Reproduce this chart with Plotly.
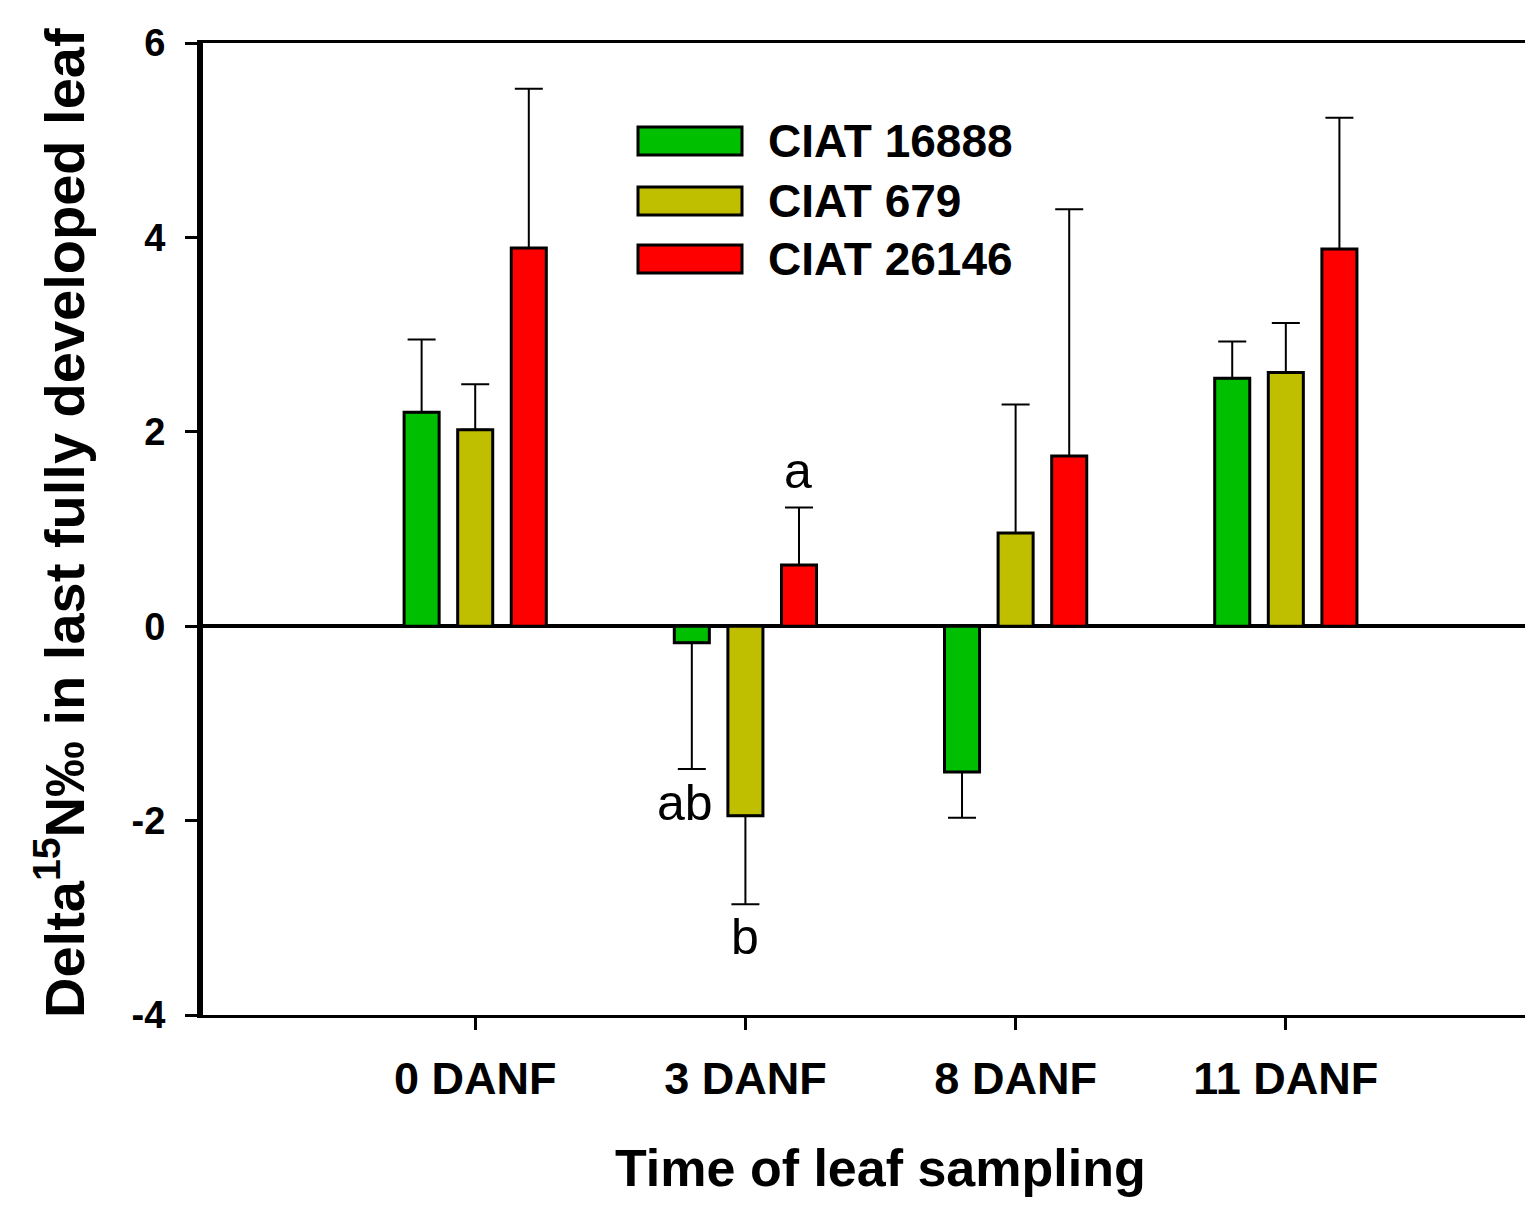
import plotly.graph_objects as go

categories = ["0 DANF", "3 DANF", "8 DANF", "11 DANF"]
series_names = ["CIAT 16888", "CIAT 679", "CIAT 26146"]
colors = ["#00BF00", "#BFBF00", "#FF0000"]

ciat_16888 = [2.20, -0.17, -1.50, 2.55]
ciat_16888_err = [0.75, 1.30, 0.47, 0.38]
ciat_679 = [2.02, -1.95, 0.96, 2.61]
ciat_679_err = [0.47, 0.91, 1.32, 0.51]
ciat_26146 = [3.89, 0.63, 1.75, 3.88]
ciat_26146_err = [1.64, 0.59, 2.54, 1.35]

y_ticks = [-4, -2, 0, 2, 4, 6]
y_tick_labels = ["-4", "-2", "0", "2", "4", "6"]

# significance letters: (text, category position, y)
letters = ["a", "ab", "b"]
letter_x = [1.196, 0.778, 1.0]
letter_y = [1.60, -1.82, -3.20]

FONT = "Liberation Sans"

# page body has an 8px margin: compensate
OFF = 8
W, H = 1533 - 2 * OFF, 1207 - 2 * OFF

fig = go.Figure()
for name, vals, errs, col in zip(
    series_names,
    [ciat_16888, ciat_679, ciat_26146],
    [ciat_16888_err, ciat_679_err, ciat_26146_err],
    colors,
):
    up = [e if v >= 0 else 0 for v, e in zip(vals, errs)]
    down = [e if v < 0 else 0 for v, e in zip(vals, errs)]
    fig.add_trace(go.Bar(
        x=categories, y=vals, name=name,
        marker=dict(color=col, line=dict(color="black", width=3)),
        error_y=dict(type="data", symmetric=False, array=up, arrayminus=down,
                     color="black", thickness=2, width=14),
        showlegend=False,
    ))

# plot area in reference page pixels
plot_l, plot_r, plot_t, plot_b = 203, 1525, 43, 1015
pw, ph = plot_r - plot_l, plot_b - plot_t
def px(x):
    return (x - plot_l) / pw
def py(y):
    return (plot_b - y) / ph

shapes = []
annotations = []
row_y = [141, 201, 259]
for name, col, yc in zip(series_names, colors, row_y):
    shapes.append(dict(type="rect", xref="paper", yref="paper",
                       x0=px(638), x1=px(742), y0=py(yc + 14), y1=py(yc - 14),
                       fillcolor=col, line=dict(color="black", width=3)))
    annotations.append(dict(xref="paper", yref="paper", x=px(766), y=py(yc),
                            xanchor="left", yanchor="middle", showarrow=False,
                            text=name, font=dict(family=FONT, size=46, color="black", weight="bold")))

for t, lx, ly in zip(letters, letter_x, letter_y):
    annotations.append(dict(xref="x", yref="y", x=lx, y=ly, text=t, showarrow=False,
                            xanchor="center", yanchor="middle",
                            font=dict(family=FONT, size=50, color="black")))

# axis titles
annotations.append(dict(xref="paper", yref="paper", x=px(880), y=py(1168),
                        text="Time of leaf sampling", showarrow=False,
                        xanchor="center", yanchor="middle",
                        font=dict(family=FONT, size=52, color="black", weight="bold")))
annotations.append(dict(xref="paper", yref="paper", x=px(60), y=py(523),
                        text="Delta<sup>15</sup>N‰ in last fully developed leaf",
                        textangle=-90, showarrow=False,
                        xanchor="center", yanchor="middle",
                        font=dict(family=FONT, size=56, color="black", weight="bold")))

fig.update_layout(
    width=W, height=H,
    margin=dict(l=plot_l - OFF, r=W - (plot_r - OFF), t=plot_t - OFF, b=H - (plot_b - OFF)),
    paper_bgcolor="white", plot_bgcolor="white",
    barmode="group", bargap=0.405, bargroupgap=0.346,
    shapes=shapes, annotations=annotations,
    showlegend=False,
)
# x range: category 0 at page x 475, spacing 270 px
x_lo = -(475 - plot_l) / 270
x_hi = 3 + (plot_r - 1286) / 270
fig.update_xaxes(
    range=[x_lo, x_hi], showline=True, linewidth=3, linecolor="black", mirror=True,
    ticks="outside", ticklen=12, tickwidth=3, tickcolor="black",
    showgrid=False, zeroline=False, ticklabelstandoff=10,
    tickfont=dict(family=FONT, size=45, color="black", weight="bold"),
)
fig.update_yaxes(
    range=[-4, 6], tickvals=y_ticks, ticktext=y_tick_labels,
    showline=True, linewidth=6, linecolor="black",
    ticks="outside", ticklen=12, tickwidth=3, tickcolor="black",
    showgrid=False, zeroline=True, zerolinewidth=4, zerolinecolor="black",
    ticklabelstandoff=12,
    tickfont=dict(family=FONT, size=38, color="black", weight="bold"),
)

fig.write_html("out.html")
